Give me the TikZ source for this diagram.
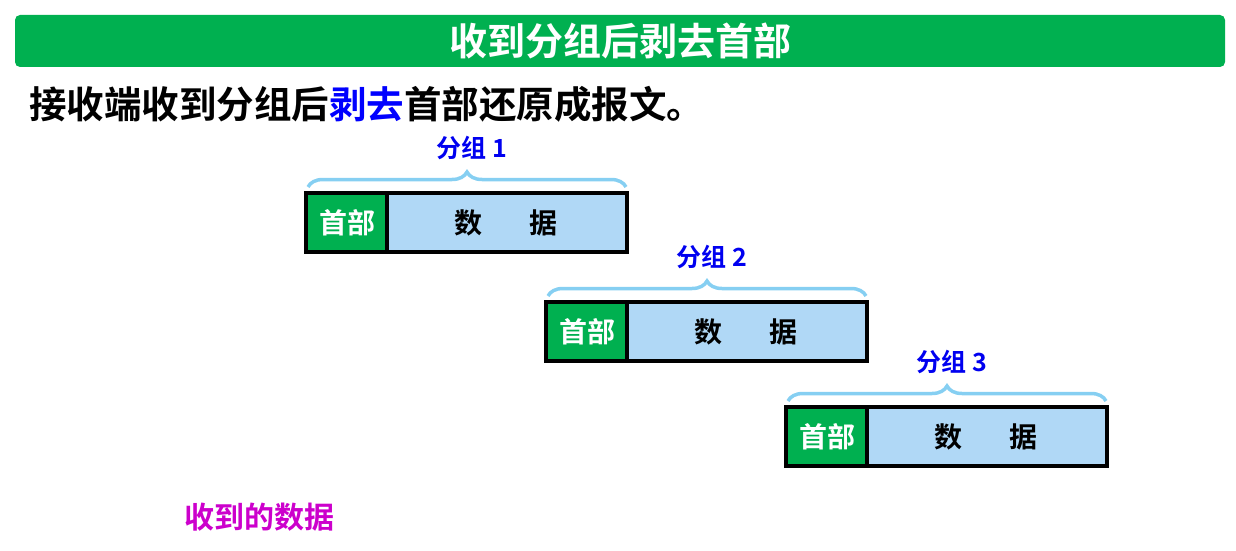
\documentclass[tikz,border=0pt]{standalone}
\usepackage{fontspec}
\setmainfont{Noto Sans CJK SC}[BoldFont={* Bold}]
\newfontfamily\cjk{Noto Sans CJK SC Bold}
\usetikzlibrary{decorations.pathreplacing}
\definecolor{bannergreen}{HTML}{00B050}
\definecolor{databg}{HTML}{B0D8F6}
\definecolor{bracecol}{HTML}{86CFF2}
\definecolor{lblblue}{HTML}{0000F0}
\definecolor{magentatxt}{HTML}{CC00CC}
\tikzset{
  hdrbox/.style={draw=black, line width=3.5pt, fill=bannergreen},
  databox/.style={draw=black, line width=3.5pt, fill=databg},
  hdrtxt/.style={text=white, font=\cjk\fontsize{28}{30}\selectfont},
  datatxt/.style={text=black, font=\cjk\fontsize{28}{30}\selectfont},
  grplbl/.style={text=lblblue, font=\cjk\fontsize{25}{28}\selectfont},
  brc/.style={draw=bracecol, line width=3.5pt, decorate, decoration={brace, amplitude=15pt, aspect=0.5}},
}
\begin{document}
\begin{tikzpicture}[x=1pt,y=-1pt]
\useasboundingbox (0,0) rectangle (1236,551);
% banner
\node[fill=bannergreen, rounded corners=5pt, minimum width=1210pt, minimum height=52pt, inner sep=0pt,
      text=white, font=\cjk\fontsize{38}{44}\selectfont] (banner) at (620,41) {收到分组后剥去首部};
% subtitle
\node[anchor=west, inner sep=0pt, font=\cjk\fontsize{37.5}{40}\selectfont] (sub) at (29,104)
  {接收端收到分组后\textcolor{blue}{剥去}首部还原成报文。};
% packets
\foreach \i/\dx/\dy in {1/0/0, 2/240/109, 3/480/214} {
  \begin{scope}[shift={(\dx,\dy)}]
    \path[databox] (306,193) rectangle (627,252);
    \path[hdrbox] (306,193) rectangle (387,252);
    \node[hdrtxt] (h\i) at (347,223) {首部};
    \node[datatxt] (d\i) at (506,223) {数\hspace{1.65em}据};
    \coordinate (bl\i) at (308,187);
    \coordinate (br\i) at (626,187);
    \draw[brc] (bl\i) -- (br\i);
    \node[grplbl] (g\i) at (472,148) {分组 \i};
  \end{scope}
}
\node[text=magentatxt, font=\cjk\fontsize{30}{32}\selectfont] (recv) at (259,517) {收到的数据};
\end{tikzpicture}
\end{document}
